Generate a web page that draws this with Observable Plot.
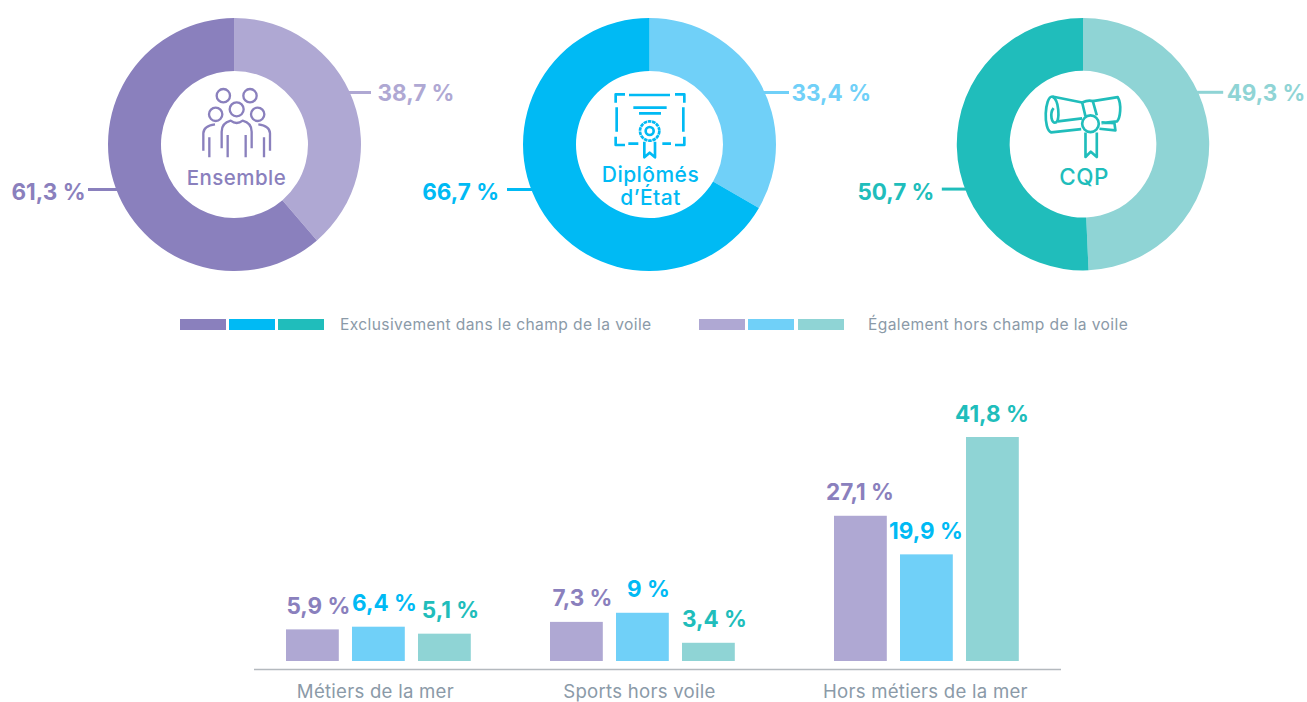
<!DOCTYPE html>
<html lang="fr">
<head>
<meta charset="utf-8">
<script src="https://cdn.jsdelivr.net/npm/d3@7"></script>
<script src="https://cdn.jsdelivr.net/npm/@observablehq/plot@0.6"></script>
<style>
html,body{margin:0;padding:0;background:#fff;overflow:hidden}
#page{position:relative;width:1307px;height:702px;overflow:hidden;font-family:Inter,sans-serif}
#page>.slot{position:absolute}
.swatch{position:absolute;top:319px;height:11px}
.legtext{position:absolute;top:315px;font-size:15.6px;line-height:20px;color:#8b9aa8;letter-spacing:.38px;white-space:nowrap}
svg text{font-family:Inter,sans-serif}
.donut-title text{letter-spacing:.45px}
.cat-label text{letter-spacing:.25px}
</style>
</head>
<body>
<div id="page"></div>
<script>
// ---- data ----
const groups = ["Ensemble", "Diplômés d’État", "CQP"];
const exclusivement = [61.3, 66.7, 50.7];
const egalement = [38.7, 33.4, 49.3];
const darkColors = ["#8a80bd", "#00baf4", "#20bdbb"];
const lightColors = ["#afa8d3", "#70d0f8", "#8fd4d5"];
const legendLabels = ["Exclusivement dans le champ de la voile", "Également hors champ de la voile"];

const categories = ["Métiers de la mer", "Sports hors voile", "Hors métiers de la mer"];
const ensembleShares = [5.9, 7.3, 27.1];
const diplomesShares = [6.4, 9, 19.9];
const cqpShares = [5.1, 3.4, 41.8];

// ---- helpers ----
const page = document.getElementById("page");
const fmt = v => String(v).replace(".", ",") + " %";
const place = (node, left, top) => {
  const d = document.createElement("div");
  d.className = "slot"; d.style.left = left + "px"; d.style.top = top + "px";
  d.appendChild(node); page.appendChild(d);
};

// ---- icons, traced on a 3x grid around the donut centre ----
const icons = [
  {ox:-74.5, sw:7, svg:`
    <circle cx="190" cy="47" r="20"/><circle cx="270" cy="47" r="20"/>
    <circle cx="230" cy="88" r="21"/><circle cx="167" cy="103" r="20"/><circle cx="293" cy="103" r="20"/>
    <path d="M185,205V155Q185,129 212,122Q230,136 248,122Q275,129 275,155V205"/>
    <path d="M203,165V232M257,165V232"/>
    <path d="M130,212V160Q130,138 165,133M148,172V232"/>
    <path d="M330,212V160Q330,138 295,133M312,172V232"/>`},
  {ox:-74.5, sw:8, svg:`
    <path d="M150,43H122V68M300,43H328V68M122,170V195H150M328,170V195H300"/>
    <path d="M162,45H285M125,82V155M325,82V155M175,83H275M192,100H258M160,191H190M262,191H288"/>
    <circle cx="224" cy="153" r="29" stroke-dasharray="11 2"/><circle cx="224" cy="153" r="12"/>
    <path d="M208,185V232L224,218L240,232V185"/>`},
  {ox:-73.5, sw:8, svg:`
    <path d="M128,50L218,68M250,64L325,52C338,75 332,115 323,125L276,130M276,128L315,130L318,152L270,147"/>
    <path d="M128,50C105,50 100,150 125,158L215,148M128,50C150,60 150,120 140,128C125,135 120,100 132,85M145,125L218,116"/>
    <path d="M218,68Q236,60 250,64L262,107M218,68L228,110"/>
    <circle cx="243" cy="132" r="25"/>
    <path d="M228,158V232L244,216L262,232V158"/>`}
];

// ---- donuts ----
const donutCentres = [234.5, 649.5, 1083.5];
const donutMiddle = 144.5;
const W = 450, H = 280, OUTER = 126.5, INNER = 73.5;
const leaderTop = -52, leaderBottom = 45;
const rightLeaderEnd = [136.5, 139.5, 140.5], leftLeaderEnd = [-146.5, -142.5, -141.5];
const rightLabelDx = [142.5, 141.5, 143.5], leftLabelDx = [-149.5, -151, -149.5];
const titleSizes = [20.5, 21, 22.5];

groups.forEach((g, i) => {
  const slices = [
    {label: legendLabels[1], value: egalement[i], color: lightColors[i]},
    {label: legendLabels[0], value: exclusivement[i], color: darkColors[i]}
  ];
  const pie = d3.pie().sort(null).value(d => d.value)(slices);
  const arc = d3.arc().innerRadius(INNER).outerRadius(OUTER);
  const titleLines = g === "Diplômés d’État" ? ["Diplômés", "d’État"] : [g];
  const left = Math.floor(donutCentres[i] - W/2), top = Math.floor(donutMiddle - H/2);
  const ox = donutCentres[i] - W/2 - left, oy = donutMiddle - H/2 - top;

  const donutMark = () => {
    const root = d3.create("svg:g").attr("transform", `translate(${W/2 + ox},${H/2 + oy})`);
    root.selectAll("path.slice").data(pie).join("path")
      .attr("class", "slice").attr("d", arc).attr("fill", d => d.data.color)
      .append("title").text(d => `${d.data.label} : ${fmt(d.data.value)}`);
    const edge = y => Math.sqrt(OUTER*OUTER - y*y) - 1;
    root.append("line").attr("x1", edge(leaderTop)).attr("x2", rightLeaderEnd[i]).attr("y1", leaderTop).attr("y2", leaderTop)
      .attr("stroke", lightColors[i]).attr("stroke-width", 3);
    root.append("line").attr("x1", -edge(leaderBottom)).attr("x2", leftLeaderEnd[i]).attr("y1", leaderBottom).attr("y2", leaderBottom)
      .attr("stroke", darkColors[i]).attr("stroke-width", 3);
    root.append("g")
      .attr("transform", `translate(${icons[i].ox},-64.5) scale(${1/3})`)
      .attr("fill", "none").attr("stroke", darkColors[i]).attr("stroke-width", icons[i].sw)
      .attr("stroke-linejoin", "round")
      .html(icons[i].svg);
    return root.node();
  };

  const plot = Plot.plot({
    width: W, height: H, margin: 0,
    x: {axis: null}, y: {axis: null},
    style: {background: "transparent", overflow: "visible"},
    marks: [
      donutMark,
      Plot.text([fmt(egalement[i])], {frameAnchor: "middle", dx: rightLabelDx[i] + ox, dy: -51 + oy, text: d => d, textAnchor: "start",
        fill: lightColors[i], fontSize: 22.5, fontWeight: 700}),
      Plot.text([fmt(exclusivement[i])], {frameAnchor: "middle", dx: leftLabelDx[i] + ox, dy: 48 + oy, text: d => d, textAnchor: "end",
        fill: darkColors[i], fontSize: 22.5, fontWeight: 700}),
      ...titleLines.map((t, k) =>
        Plot.text([t], {frameAnchor: "middle", text: d => d, dx: (i === 0 ? 1.5 : 0.5) + ox, dy: (titleLines.length > 1 ? 30.5 + k*23 : 33.5) + oy,
          fill: darkColors[i], fontSize: titleSizes[i], fontWeight: 500, className: "donut-title"}))
    ]
  });
  place(plot, left, top);
});

// ---- legend ----
const legendSwatches = [[180, 229, 278], [699, 748, 798]];
const legendTextX = [340, 868];
legendSwatches.forEach((xs, k) => {
  xs.forEach((x, j) => {
    const s = document.createElement("div");
    s.className = "swatch"; s.style.left = x + "px"; s.style.width = "46px";
    s.style.background = (k === 0 ? darkColors : lightColors)[j];
    page.appendChild(s);
  });
  const t = document.createElement("div");
  t.className = "legtext"; t.style.left = legendTextX[k] + "px"; t.textContent = legendLabels[k];
  page.appendChild(t);
});

// ---- bars ----
const seriesShares = [ensembleShares, diplomesShares, cqpShares];
const rows = [];
categories.forEach((c, ci) => groups.forEach((g, si) =>
  rows.push({category: c, group: g, slot: `${c}|${g}`, value: seriesShares[si][ci], dark: darkColors[si], light: lightColors[si]})));
// one blank band separates each category
const slotDomain = categories.flatMap((c, ci) => [...groups.map(g => `${c}|${g}`), ...(ci < categories.length - 1 ? [`gap${ci}`] : [])]);
const midSlot = c => `${c}|${groups[1]}`;

const barMarks = categories.flatMap((c, ci) => {
  const data = rows.filter(r => r.category === c);
  const shift = ci === 2 ? 20 : 0;               // last cluster sits a little further right
  const labelShift = ci === 2 ? -1 : 5.5;
  return [
    Plot.barY(data, {x: "slot", y: "value", fill: d => d.light, dx: shift}),
    Plot.text(data, {x: "slot", y: "value", text: d => fmt(d.value), fill: d => d.dark,
      dx: shift + labelShift, dy: -16, lineAnchor: "bottom", fontSize: 22.5, fontWeight: 700}),
    Plot.text([c], {x: () => midSlot(c), y: () => 0, text: d => d, dx: shift + (ci === 2 ? -1.5 : -3.5), dy: 31,
      fill: "#8b9aa8", fontSize: 18.6, fontWeight: 400, className: "cat-label"})
  ];
});

place(Plot.plot({
  width: 807, height: 332,
  marginLeft: 0, marginRight: 0, marginTop: 0, marginBottom: 41,
  style: {background: "transparent", overflow: "visible"},
  x: {type: "band", domain: slotDomain, range: [32, 744.8], padding: 0.2, paddingOuter: 0, align: 0, round: false, axis: null},
  y: {domain: [0, 41.8], range: [291, 67], axis: null},
  marks: [
    ...barMarks,
    Plot.ruleY([0], {dy: 8, stroke: "#b4b9be", strokeWidth: 1.5})
  ]
}), 254, 370);
</script>
</body>
</html>
